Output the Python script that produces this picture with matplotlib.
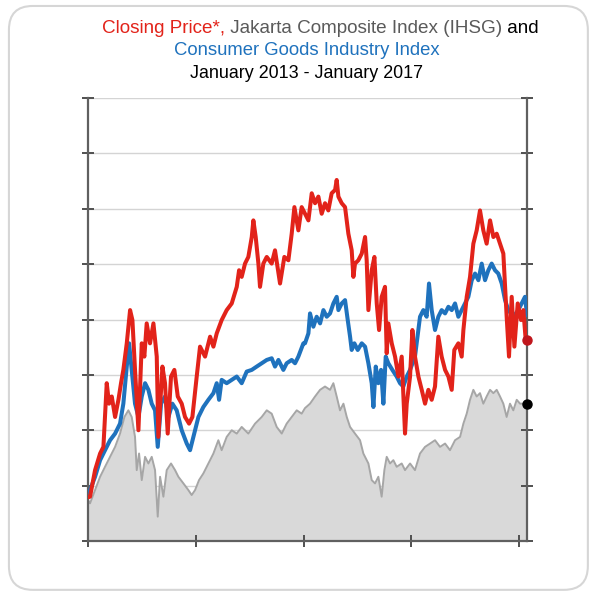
import matplotlib
matplotlib.use("Agg")
import matplotlib.pyplot as plt
from matplotlib.patches import FancyBboxPatch
from matplotlib.offsetbox import TextArea, HPacker, AnnotationBbox

plt.rcParams['font.family'] = ['Liberation Sans', 'DejaVu Sans']

# time: months since January 2013; values: in grid units (8 gridline intervals)
ihsg_t = [0, 0.22, 0.78, 1.34, 1.89, 2.45, 3.01, 3.56, 4.05, 4.49,
          4.86, 5.23, 5.42, 5.68, 5.98, 6.35, 6.72, 7.09, 7.46, 7.76,
          8.02, 8.39, 8.76, 9.24, 9.69, 10.06, 10.62, 11.17, 11.54, 11.92,
          12.36, 12.84, 13.40, 13.96, 14.51, 14.88, 15.44, 16.00, 16.56, 17.11,
          17.85, 18.60, 19.34, 19.90, 20.45, 21.01, 21.57, 22.12, 22.68, 23.24,
          23.79,
          24.16, 24.72, 25.28, 25.84, 26.39, 26.95, 27.32, 27.69, 28.06, 28.44,
          28.81, 29.18, 29.73, 30.29, 30.66, 31.22, 31.59, 31.96, 32.33, 32.70,
          33.00, 33.26, 33.63, 34.00, 34.37, 34.93, 35.30, 35.86, 36.41, 36.97,
          37.53, 38.09, 38.64, 39.20, 39.76, 40.31, 40.87, 41.43, 41.80, 42.17,
          42.54, 42.91, 43.28, 43.65, 44.02, 44.39, 44.77, 45.14, 45.51, 45.88,
          46.25, 46.62, 46.99, 47.36, 47.74, 48.11, 48.66, 48.89]
ihsg_v = [0.74, 0.68, 0.92, 1.16, 1.34, 1.52, 1.70, 1.94, 2.24, 2.36,
          2.24, 1.88, 1.28, 1.58, 1.10, 1.52, 1.40, 1.52, 1.28, 0.44,
          1.16, 0.80, 1.28, 1.40, 1.28, 1.16, 1.04, 0.92, 0.83, 0.92,
          1.10, 1.22, 1.40, 1.58, 1.82, 1.64, 1.88, 2.00, 1.94, 2.06,
          1.94, 2.12, 2.24, 2.36, 2.30, 2.06, 1.94, 2.12, 2.24, 2.36,
          2.30,
          2.40, 2.48, 2.61, 2.73, 2.79, 2.73, 2.85, 2.61, 2.36, 2.48,
          2.24, 2.06, 1.94, 1.82, 1.58, 1.40, 1.10, 1.04, 1.16, 0.80,
          1.28, 1.52, 1.40, 1.46, 1.34, 1.40, 1.28, 1.40, 1.28, 1.58,
          1.70, 1.76, 1.82, 1.70, 1.76, 1.64, 1.82, 1.88, 2.12, 2.30,
          2.55, 2.73, 2.61, 2.67, 2.48, 2.61, 2.73, 2.67, 2.73, 2.61,
          2.48, 2.24, 2.48, 2.36, 2.55, 2.48, 2.48, 2.47]

cons_t = [0, 0.22, 0.78, 1.34, 1.89, 2.45, 3.01, 3.56, 3.93, 4.31,
          4.57, 4.86, 5.23, 5.61, 5.98, 6.35, 6.72, 7.09, 7.46, 7.76,
          8.13, 8.57, 8.95, 9.39, 9.87, 10.43, 10.99, 11.36, 11.73, 12.29,
          12.84, 13.40, 13.96, 14.33, 14.59, 14.88, 15.44, 16.00, 16.56, 17.11,
          17.67, 18.23, 18.78, 19.34, 19.90, 20.45, 20.82, 21.20, 21.75, 22.12,
          22.68, 23.05, 23.42, 23.98,
          24.16, 24.54, 24.72, 25.09, 25.46, 25.84, 26.21, 26.58, 26.95, 27.32,
          27.69, 27.88, 28.25, 28.62, 28.92, 29.18, 29.36, 29.66, 30.03, 30.48,
          30.85, 31.22, 31.59, 31.78, 32.04, 32.33, 32.63, 32.89, 33.15, 33.44,
          33.89, 34.37, 34.74, 35.11, 35.49, 35.86, 36.41, 36.97, 37.34, 37.71,
          37.97, 38.27, 38.64, 39.01, 39.38, 39.76, 40.13, 40.50, 40.87, 41.24,
          41.61, 41.98, 42.35, 42.73, 43.10, 43.47, 43.84, 44.21, 44.58, 44.95,
          45.32, 45.69, 46.07, 46.44, 46.81, 47.36, 47.92, 48.29, 48.66, 48.89]
cons_v = [0.88, 0.92, 1.16, 1.46, 1.64, 1.82, 1.94, 2.12, 2.48, 3.15,
          3.57, 3.09, 2.48, 2.24, 2.61, 2.85, 2.73, 2.48, 2.36, 1.70,
          2.48, 2.61, 2.24, 2.48, 2.36, 2.00, 1.76, 1.64, 1.88, 2.24,
          2.42, 2.55, 2.67, 2.85, 2.55, 2.91, 2.85, 2.91, 2.97, 2.85,
          3.06, 3.09, 3.15, 3.21, 3.27, 3.30, 3.15, 3.27, 3.09, 3.21,
          3.27, 3.21, 3.33, 3.57,
          3.57, 3.75, 4.11, 3.87, 4.05, 3.93, 4.17, 4.05, 4.11, 4.29,
          4.41, 4.17, 4.29, 4.35, 3.99, 3.69, 3.45, 3.57, 3.45, 3.57,
          3.51, 3.21, 2.85, 2.42, 3.15, 2.85, 3.09, 2.48, 3.33, 3.21,
          3.09, 2.97, 2.85, 2.79, 2.97, 3.09, 3.33, 4.05, 4.17, 4.05,
          4.65, 4.17, 3.81, 4.05, 4.17, 4.11, 4.23, 4.17, 4.29, 4.05,
          4.17, 4.29, 4.41, 4.71, 4.83, 4.71, 5.01, 4.71, 4.89, 5.01,
          4.89, 4.83, 4.65, 4.35, 4.17, 4.05, 4.17, 4.29, 4.41, 4.08]

price_t = [0, 0.22, 0.78, 1.34, 1.71, 2.08, 2.34, 2.64, 3.01, 3.38,
           3.67, 3.93, 4.31, 4.68, 4.94, 5.23, 5.61, 5.98, 6.27, 6.53,
           6.90, 7.28, 7.65, 7.83, 8.28, 8.57, 8.87, 9.24, 9.61, 9.99,
           10.43, 10.80, 11.25, 11.62, 12.10, 12.47, 13.03, 13.59, 13.96, 14.33,
           14.88, 15.44, 16.00, 16.56, 16.82, 17.11, 17.48, 17.85, 18.23, 18.41,
           18.67, 18.97, 19.15, 19.52, 19.90, 20.45, 20.82, 21.38, 21.86, 22.31,
           22.68, 22.98, 23.42, 23.79,
           24.16, 24.54, 24.91, 25.28, 25.65, 26.02, 26.39, 26.76, 27.13, 27.51,
           27.69, 27.88, 28.25, 28.62, 28.99, 29.36, 29.55, 29.73, 30.10, 30.48,
           30.85, 31.03, 31.22, 31.59, 31.89, 32.15, 32.41, 32.70, 33.07, 33.26,
           33.44, 33.82, 34.19, 34.56, 34.93, 35.30, 35.49, 35.86, 36.12, 36.41,
           36.79, 37.16, 37.53, 37.90, 38.27, 38.64, 39.01, 39.38, 39.76, 40.13,
           40.50, 40.79, 41.24, 41.61, 41.80, 42.17, 42.54, 42.91, 43.28, 43.65,
           44.02, 44.39, 44.77, 45.14, 45.51, 45.88, 46.25, 46.44, 46.62, 46.88,
           47.18, 47.48, 47.85, 48.22, 48.48, 48.74, 48.89]
price_v = [0.79, 0.80, 1.28, 1.58, 1.70, 2.85, 2.48, 2.61, 2.24, 2.55,
           2.85, 3.09, 3.57, 4.17, 3.99, 3.09, 2.00, 3.57, 3.33, 3.93,
           3.57, 3.93, 3.33, 1.88, 3.15, 2.85, 1.94, 2.97, 3.09, 2.61,
           2.48, 2.24, 2.12, 2.24, 2.97, 3.51, 3.33, 3.69, 3.51, 3.75,
           3.99, 4.17, 4.29, 4.59, 4.89, 4.77, 5.01, 5.13, 5.49, 5.79,
           5.49, 5.01, 4.59, 5.01, 5.13, 5.01, 5.25, 4.65, 5.13, 5.07,
           5.55, 6.03, 5.61, 6.03,
           5.91, 5.79, 6.28, 6.10, 6.22, 5.91, 6.10, 5.97, 6.28, 6.34,
           6.52, 6.22, 6.10, 6.03, 5.55, 5.25, 4.77, 5.01, 5.07, 5.19,
           5.49, 5.07, 4.17, 4.89, 5.13, 4.29, 3.81, 4.41, 4.59, 3.39,
           3.93, 3.57, 3.33, 2.97, 3.33, 1.94, 2.48, 2.97, 3.81, 3.33,
           2.97, 2.73, 2.48, 2.73, 2.55, 2.79, 3.69, 3.33, 3.09, 2.97,
           2.73, 3.45, 3.57, 3.33, 3.81, 4.41, 4.77, 5.37, 5.61, 5.97,
           5.61, 5.37, 5.79, 5.49, 5.55, 5.37, 5.19, 4.59, 4.05, 3.33,
           4.41, 3.51, 4.29, 3.99, 4.17, 3.63, 3.63]

year_ticks = [0, 12, 24, 36, 48]
grid_levels = [0, 1, 2, 3, 4, 5, 6, 7, 8]

RED = '#e2231a'
BLUE = '#1f72bd'
GRAY_TXT = '#5a5a5a'

fig = plt.figure(figsize=(5.95, 5.97), dpi=100)
fig.patch.set_facecolor('white')

# rounded frame
frame = FancyBboxPatch((0.015, 0.012), 0.973, 0.978, boxstyle="round,pad=0,rounding_size=0.04",
                       transform=fig.transFigure, facecolor='none', edgecolor='#d6d6d6',
                       linewidth=1.5, zorder=0)
fig.patches.append(frame)

ax = fig.add_axes([0.148, 0.0938, 0.7378, 0.742])
ax.set_xlim(0, ihsg_t[-1])
ax.set_ylim(0, 8)

for g in grid_levels:
    ax.axhline(g, color='#d4d4d4', lw=1.0, zorder=0)

ax.fill_between(ihsg_t, 0, ihsg_v, color='#d9d9d9', lw=0, zorder=1)
ax.plot(ihsg_t, ihsg_v, color='#a6a6a6', lw=1.4, zorder=2)
ax.plot(cons_t, cons_v, color=BLUE, lw=2.9, zorder=3, solid_joinstyle='round')
ax.plot(price_t, price_v, color=RED, lw=2.9, zorder=4, solid_joinstyle='round')

ax.plot([price_t[-1]], [price_v[-1]], 'o', color='#c0161c', ms=6.5, clip_on=False, zorder=6)
ax.plot([ihsg_t[-1]], [ihsg_v[-1]], 'o', color='black', ms=6.5, clip_on=False, zorder=6)

ax.spines['top'].set_visible(False)
for s in ['left', 'right', 'bottom']:
    ax.spines[s].set_color('#606060')
    ax.spines[s].set_linewidth(1.6)

ax.set_xticks(year_ticks)
ax.set_yticks(grid_levels)
ax.tick_params(axis='x', direction='inout', length=9, width=1.4, color='#505050', labelbottom=False)
ax.tick_params(axis='y', direction='inout', length=8, width=1.4, color='#505050',
               labelleft=False, right=True, left=True)

# Title
fs1, fs2, fs3 = 13.6, 13.3, 12.9
line1 = HPacker(children=[
    TextArea("Closing Price*,", textprops=dict(color=RED, fontsize=fs1)),
    TextArea(" Jakarta Composite Index (IHSG)", textprops=dict(color=GRAY_TXT, fontsize=fs1)),
    TextArea(" and", textprops=dict(color='black', fontsize=fs1)),
], pad=0, sep=0, align='baseline')
ab = AnnotationBbox(line1, (0.538, 0.953), xycoords='figure fraction', frameon=False,
                    box_alignment=(0.5, 0.5))
fig.add_artist(ab)
fig.text(0.515, 0.916, "Consumer Goods Industry Index", color=BLUE, fontsize=fs2,
         ha='center', va='center')
fig.text(0.515, 0.877, "January 2013 - January 2017", color='black', fontsize=fs3,
         ha='center', va='center')

fig.savefig('out.png', dpi=100, facecolor='white')
